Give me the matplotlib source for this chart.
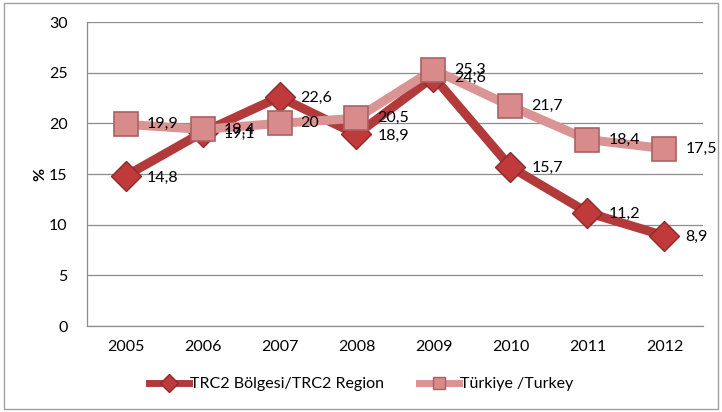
import matplotlib
matplotlib.use("Agg")
import matplotlib.pyplot as plt
from matplotlib.patches import Rectangle
from matplotlib.lines import Line2D

years = ["2005", "2006", "2007", "2008", "2009", "2010", "2011", "2012"]
trc2 = [14.8, 19.1, 22.6, 18.9, 24.6, 15.7, 11.2, 8.9]
turkey = [19.9, 19.4, 20.0, 20.5, 25.3, 21.7, 18.4, 17.5]
trc2_labels = ["14,8", "19,1", "22,6", "18,9", "24,6", "15,7", "11,2", "8,9"]
turkey_labels = ["19,9", "19,4", "20", "20,5", "25,3", "21,7", "18,4", "17,5"]
yticks = [0, 5, 10, 15, 20, 25, 30]

plt.rcParams['font.family'] = ['Lato', 'DejaVu Sans']

fig = plt.figure(figsize=(7.22, 4.12), dpi=100)
ax = fig.add_axes([87/722, 1-326/412, (703-87)/722, (326-22)/412])

x = list(range(len(years)))
dark = "#B23A3A"
light = "#D99493"
fs = 11.5

ax.plot(x, trc2, color=dark, lw=6.5, marker="D", ms=15, mfc="#C0393B", mec="#8E2A2A",
        mew=1, zorder=3, solid_capstyle="round")
ax.plot(x, turkey, color=light, lw=6.5, marker="s", ms=17, mfc="#D98B8B", mec="#A86262",
        mew=1.2, zorder=4, solid_capstyle="round")

for xi, v, s in zip(x, trc2, trc2_labels):
    ax.annotate(s, (xi, v), xytext=(15, -1), textcoords="offset points", ha="left", va="center",
                fontsize=fs, color="black", zorder=6)
for xi, v, s in zip(x, turkey, turkey_labels):
    ax.annotate(s, (xi, v), xytext=(15, 0), textcoords="offset points", ha="left", va="center",
                fontsize=fs, color="black", zorder=6)

ax.set_xlim(-0.5, len(years)-0.5)
ax.set_ylim(0, 30)
ax.set_yticks(yticks)
ax.set_xticks(x)
ax.set_xticklabels(years)
ax.tick_params(axis="both", length=0, labelsize=fs, colors="black")
ax.tick_params(axis="y", pad=14)
ax.tick_params(axis="x", pad=10)
ax.grid(axis="y", color="#8C8C8C", lw=0.9)
ax.set_axisbelow(True)
for sp in ["top", "right"]:
    ax.spines[sp].set_visible(False)
for sp in ["left", "bottom"]:
    ax.spines[sp].set_color("#8C8C8C")
    ax.spines[sp].set_linewidth(0.9)
ax.set_ylabel("%", fontsize=fs, fontweight="bold", labelpad=1)

handles = [
    Line2D([], [], color=dark, lw=5, marker="D", ms=9, mfc="#C0393B", mec="#8E2A2A"),
    Line2D([], [], color=light, lw=5, marker="s", ms=9, mfc="#D98B8B", mec="#A86262"),
]
fig.legend(handles, ["TRC2 Bölgesi/TRC2 Region", "Türkiye /Turkey"], loc="center",
           bbox_to_anchor=(0.5, 1-384/412), ncol=2, frameon=False, fontsize=fs,
           handlelength=2.5, handletextpad=0.05, columnspacing=2.2)

fig.patches.append(Rectangle((4/722, 3/412), 714/722, 406/412, transform=fig.transFigure,
                             fill=False, edgecolor="#A0A0A0", lw=1))

fig.savefig("out.png", dpi=100)
